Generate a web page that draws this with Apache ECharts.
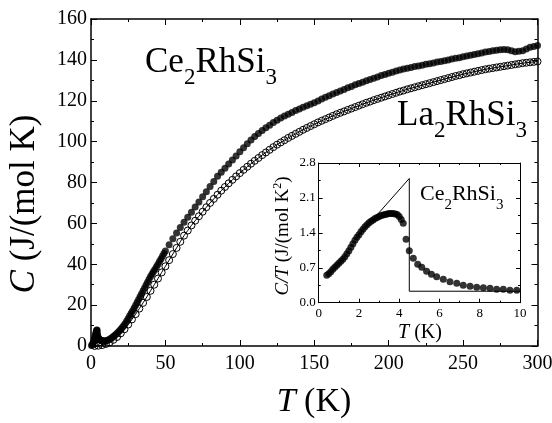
<!DOCTYPE html>
<html>
<head>
<meta charset="utf-8">
<script src="https://cdn.jsdelivr.net/npm/echarts@6/dist/echarts.min.js"></script>
<style>
  html, body { margin: 0; padding: 0; background: #fff; }
  #chart { width: 552px; height: 423px; }
</style>
</head>
<body>
<div id="chart"></div>
<script>
// Ce2RhSi3 (filled circles), C in J/(mol K)
const ceT = [0.4,0.7,1.0,1.3,1.6,2.0,2.3,2.6,3.0,3.3,3.6,3.9,4.1,4.3,4.5,4.8,5.2,5.6,6.0,6.5,7.0,7.5,8.0,9.0,10,
  11,12,13,14,15,16,17,18,19,20,21,22,23,24,25,26,27,28,29,30,31,32,33,34,35,36,37,38,39,40,41,42,43,44,45,46,47,48,49,50,
  52.5,55,57.5,60,62.5,65,67.5,70,72.5,75,77.5,80,82.5,85,87.5,90,92.5,95,97.5,100,
  102.5,105,107.5,110,112.5,115,117.5,120,122.5,125,127.5,130,132.5,135,137.5,140,142.5,145,147.5,150,
  152.5,155,157.5,160,162.5,165,167.5,170,172.5,175,177.5,180,182.5,185,187.5,190,192.5,195,197.5,200,
  202.5,205,207.5,210,212.5,215,217.5,220,222.5,225,227.5,230,232.5,235,237.5,240,242.5,245,247.5,250,
  252.5,255,257.5,260,262.5,265,267.5,270,272.5,275,277.5,280,282.5,285,287.5,290,292.5,295,297.5,300];
const ceC = [0.22,0.45,0.8,1.2,1.75,2.7,3.6,4.6,5.6,6.5,7.3,7.8,7.7,6.2,4.9,4.1,3.7,3.3,3.0,2.8,2.7,2.6,2.5,2.5,2.6,
  2.8,3.1,3.5,4.0,4.6,5.2,5.9,6.6,7.4,8.2,9.0,10.0,11.0,12.2,13.5,14.8,16.0,17.3,18.6,20.0,21.4,22.8,24.2,25.6,27.0,28.4,29.8,31.2,32.6,34.0,35.2,36.4,37.6,38.8,40.0,41.3,42.6,43.9,45.2,46.5,
  49.5,52.5,55.3,58,60.5,63,65.5,68,70.5,73,75.5,78,80.5,83,85,87,89,91,93,95,
  97,99,100.8,102.5,104,105.5,106.8,108,109.3,110.5,111.5,112.5,113.4,114.3,115.2,116,116.8,117.5,118.3,119,
  119.9,120.8,121.7,122.5,123.3,124,124.8,125.5,126.3,127,127.8,128.5,129.1,129.8,130.4,131,131.6,132.3,132.9,133.5,
  134,134.5,135,135.5,135.9,136.3,136.7,137,137.4,137.8,138.1,138.5,138.9,139.2,139.6,140,140.4,140.8,141.1,141.5,
  141.9,142.3,142.6,143,143.4,143.8,144.1,144.5,144.7,144.9,145.1,145.0,144.5,144.0,144.2,144.5,145.3,146.2,146.6,147];

// La2RhSi3 (open circles with line)
const laT = [2.5,5,7.5,10,12.5,15,17.5,20,22.5,25,27.5,30,32.5,35,37.5,40,42.5,45,47.5,50,
  52.5,55,57.5,60,62.5,65,67.5,70,72.5,75,77.5,80,82.5,85,87.5,90,92.5,95,97.5,100,
  102.5,105,107.5,110,112.5,115,117.5,120,122.5,125,127.5,130,132.5,135,137.5,140,142.5,145,147.5,150,
  152.5,155,157.5,160,162.5,165,167.5,170,172.5,175,177.5,180,182.5,185,187.5,190,192.5,195,197.5,200,
  202.5,205,207.5,210,212.5,215,217.5,220,222.5,225,227.5,230,232.5,235,237.5,240,242.5,245,247.5,250,
  252.5,255,257.5,260,262.5,265,267.5,270,272.5,275,277.5,280,282.5,285,287.5,290,292.5,295,297.5,300];
const laC = [0.02,0.15,0.45,1.0,1.8,3.0,4.4,6.2,8.2,10.5,13,15.6,18.3,21.1,24,27,30,33,36,39,
  42,45,48,51,54,56.5,59,61.3,63.5,65.7,67.9,70,72,74,76,77.8,79.6,81.3,83,84.6,
  86.2,87.7,89.2,90.6,92,93.4,94.7,96,97.3,98.5,99.6,100.7,101.8,102.8,103.8,104.8,105.8,106.7,107.6,108.5,
  109.4,110.2,111,111.8,112.6,113.4,114.1,114.8,115.5,116.2,116.9,117.6,118.3,119,119.6,120.3,120.9,121.5,122.1,122.7,
  123.3,123.9,124.5,125,125.6,126.1,126.6,127.1,127.6,128.1,128.6,129.1,129.6,130.1,130.6,131.1,131.6,132.1,132.5,133,
  133.4,133.8,134.2,134.6,135,135.4,135.7,136,136.3,136.6,136.9,137.2,137.5,137.8,138.1,138.4,138.6,138.8,139,139.2];

// inset: C/T of Ce2RhSi3, J/(mol K^2)
const insT = [0.4,0.5,0.6,0.7,0.8,0.9,1.0,1.1,1.2,1.3,1.4,1.5,1.6,1.7,1.8,1.9,2.0,2.1,2.2,2.3,2.4,2.5,2.6,2.7,2.8,2.9,
  3.0,3.1,3.2,3.3,3.4,3.5,3.6,3.7,3.8,3.9,4.0,4.1,4.2,4.34,4.5,4.7,4.92,5.12,5.36,5.6,5.86,6.19,6.52,6.86,7.18,7.52,
  7.85,8.18,8.51,8.84,9.17,9.5,9.84];
const insCT = [0.55,0.58,0.62,0.67,0.71,0.75,0.79,0.83,0.87,0.92,0.98,1.04,1.11,1.18,1.25,1.31,1.36,1.42,1.47,1.52,1.56,1.60,1.63,1.66,1.69,1.71,
  1.73,1.75,1.76,1.77,1.78,1.79,1.79,1.79,1.78,1.77,1.73,1.67,1.59,1.27,1.04,0.89,0.77,0.71,0.63,0.57,0.52,0.47,0.42,0.39,0.35,0.33,
  0.31,0.30,0.29,0.27,0.27,0.25,0.25];
// entropy-balance construction line
const entT = [2.0, 4.5, 4.5, 10];
const entCT = [1.35, 2.49, 0.23, 0.23];

const serif = 'Liberation Serif';
const black = '#000';

function pairs(xs, ys) { return xs.map((x, i) => [x, ys[i]]); }

function axisBase(extra) {
  return Object.assign({
    type: 'value',
    axisLine: { show: true, onZero: false, lineStyle: { color: black, width: 1.5 } },
    axisTick: { show: true, inside: true, length: 6, lineStyle: { color: black, width: 1 } },
    minorTick: { show: true, splitNumber: 2, length: 3, lineStyle: { color: black, width: 1 } },
    splitLine: { show: false },
    minorSplitLine: { show: false },
    axisLabel: { show: true, color: black, fontFamily: serif, fontSize: 20 }
  }, extra);
}

// thinner axes for the inset
function insetAxis(extra) {
  return axisBase(Object.assign({
    axisLine: { show: true, onZero: false, lineStyle: { color: black, width: 1 } },
    axisTick: { show: true, inside: true, length: 4, lineStyle: { color: black } },
    minorTick: { show: true, splitNumber: 2, length: 2, lineStyle: { color: black } }
  }, extra));
}

const chart = echarts.init(document.getElementById('chart'));

chart.setOption({
  animation: false,
  backgroundColor: '#fff',
  grid: [
    { left: 91, top: 19, right: 14.5, bottom: 77, outerBoundsMode: 'none' },
    { left: 318.7, top: 163, right: 32, bottom: 120.3, outerBoundsMode: 'none', show: true, backgroundColor: '#fff', borderWidth: 0 }
  ],
  xAxis: [
    axisBase({ gridIndex: 0, min: 0, max: 300, interval: 50, position: 'bottom',
      axisLabel: { color: black, fontFamily: serif, fontSize: 20, margin: 8 } }),
    axisBase({ gridIndex: 0, min: 0, max: 300, interval: 50, position: 'top', axisLabel: { show: false } }),
    insetAxis({ gridIndex: 1, min: 0, max: 10, interval: 2, position: 'bottom',
      axisLabel: { color: black, fontFamily: serif, fontSize: 13, margin: 4 } }),
    insetAxis({ gridIndex: 1, min: 0, max: 10, interval: 2, position: 'top', axisLabel: { show: false } })
  ],
  yAxis: [
    axisBase({ gridIndex: 0, min: 0, max: 160, interval: 20, position: 'left',
      axisLabel: { color: black, fontFamily: serif, fontSize: 20, margin: 4 } }),
    axisBase({ gridIndex: 0, min: 0, max: 160, interval: 20, position: 'right', axisLabel: { show: false } }),
    insetAxis({ gridIndex: 1, min: 0, max: 2.8, interval: 0.7, position: 'left',
      axisLabel: { color: black, fontFamily: serif, fontSize: 13, margin: 3,
        formatter: v => v.toFixed(1) } }),
    insetAxis({ gridIndex: 1, min: 0, max: 2.8, interval: 0.7, position: 'right', axisLabel: { show: false } })
  ],
  series: [
    {
      name: 'La2RhSi3', type: 'line', xAxisIndex: 0, yAxisIndex: 0,
      data: pairs(laT, laC),
      symbol: 'circle', symbolSize: 7, showAllSymbol: true,
      lineStyle: { color: black, width: 1 },
      itemStyle: { color: 'rgba(255,255,255,0)', borderColor: black, borderWidth: 1 },
      z: 2
    },
    {
      name: 'Ce2RhSi3', type: 'scatter', xAxisIndex: 0, yAxisIndex: 0,
      data: pairs(ceT, ceC),
      symbol: 'circle', symbolSize: 7,
      itemStyle: { color: black },
      z: 3
    },
    {
      name: 'entropy', type: 'line', xAxisIndex: 2, yAxisIndex: 2,
      data: pairs(entT, entCT),
      symbol: 'none',
      lineStyle: { color: black, width: 1 },
      z: 3
    },
    {
      name: 'C/T', type: 'scatter', xAxisIndex: 2, yAxisIndex: 2,
      data: pairs(insT, insCT),
      symbol: 'circle', symbolSize: 7,
      itemStyle: { color: black },
      z: 4
    }
  ],
  graphic: [
    { type: 'text', x: 314, y: 402, z: 10,
      style: { text: '{i|T} (K)', fontFamily: serif, fontSize: 34, fill: black, align: 'center', verticalAlign: 'middle',
        rich: { i: { fontFamily: serif, fontSize: 34, fontStyle: 'italic', fill: black } } } },
    { type: 'text', x: 25, y: 204, rotation: Math.PI / 2, z: 10,
      style: { text: '{i|C} (J/(mol K)', fontFamily: serif, fontSize: 35, fill: black, align: 'center', verticalAlign: 'middle',
        rich: { i: { fontFamily: serif, fontSize: 35, fontStyle: 'italic', fill: black } } } },
    { type: 'text', x: 145, y: 63, z: 10,
      style: { text: '{a|Ce}{s|2}{a|RhSi}{s|3}', align: 'left', verticalAlign: 'middle',
        rich: { a: { fontFamily: serif, fontSize: 35, fill: black },
                s: { fontFamily: serif, fontSize: 23, fill: black, padding: [30, 0, 0, 0] } } } },
    { type: 'text', x: 397, y: 116, z: 10,
      style: { text: '{a|La}{s|2}{a|RhSi}{s|3}', align: 'left', verticalAlign: 'middle',
        rich: { a: { fontFamily: serif, fontSize: 35, fill: black },
                s: { fontFamily: serif, fontSize: 23, fill: black, padding: [30, 0, 0, 0] } } } },
    { type: 'text', x: 420, y: 194, z: 10,
      style: { text: '{a|Ce}{s|2}{a|RhSi}{s|3}', align: 'left', verticalAlign: 'middle',
        rich: { a: { fontFamily: serif, fontSize: 22, fill: black },
                s: { fontFamily: serif, fontSize: 15, fill: black, padding: [22, 0, 0, 0] } } } },
    { type: 'text', x: 420, y: 333, z: 10,
      style: { text: '{i|T} (K)', fontFamily: serif, fontSize: 20, fill: black, align: 'center', verticalAlign: 'middle',
        rich: { i: { fontFamily: serif, fontSize: 20, fontStyle: 'italic', fill: black } } } },
    { type: 'text', x: 283, y: 236, rotation: Math.PI / 2, z: 10,
      style: { text: '{i|C/T} (J/(mol K{p|2})', fontFamily: serif, fontSize: 19, fill: black, align: 'center', verticalAlign: 'middle',
        rich: { i: { fontFamily: serif, fontSize: 19, fontStyle: 'italic', fill: black },
                p: { fontFamily: serif, fontSize: 12, fill: black, padding: [0, 0, 11, 0] } } } }
  ]
});
</script>
</body>
</html>
